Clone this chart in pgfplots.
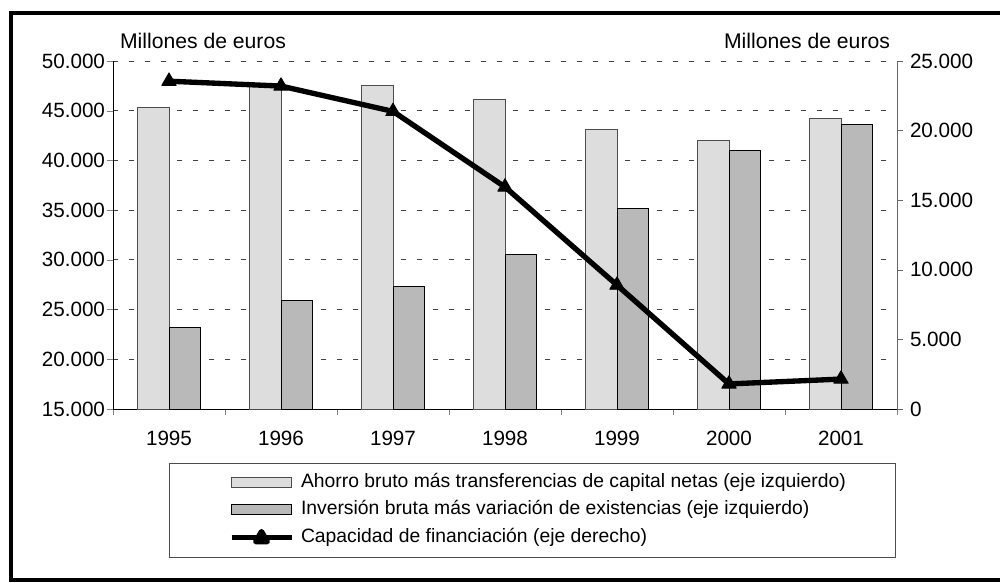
\documentclass[border=0pt]{standalone}
\usepackage{fontspec}
\setmainfont{Liberation Sans}
\usepackage{pgfplots}
\pgfplotsset{compat=1.18}

\definecolor{ahorro}{HTML}{DDDDDD}
\definecolor{inversion}{HTML}{B9B9B9}

% valores en millones de euros
\pgfplotstableread{
x anio ahorro inversion capacidad
0 1995 45300 23150 23550
1 1996 47700 25900 23200
2 1997 47500 27300 21380
3 1998 46150 30550 15950
4 1999 43150 35200 8900
5 2000 42000 40950 1800
6 2001 44250 43650 2150
}\datos

\pgfplotsset{
  base/.style={
    width=470.4pt, height=208.8pt, scale only axis,
    at={(67.8pt,103.8pt)}, anchor=south west,
    xmin=-0.5, xmax=6.5,
    tick align=outside,
    scaled y ticks=false,
    /pgf/number format/assume math mode=true,
    /pgf/number format/1000 sep={.},
    tick label style={font=\fontsize{12.4}{14}\selectfont},
  },
  barra/.style={legend image code/.code={%
    \draw[##1,line width=0.6pt] (0pt,-3pt) rectangle (36pt,3pt);}},
}

\begin{document}
\begin{tikzpicture}[x=0.6pt,y=0.6pt]
\path[use as bounding box] (0,0) rectangle (1000,582);
% marco exterior
\draw[line width=2.4pt] (1000,569) -- (11,569) -- (11,0);
\draw[line width=2.4pt] (11,2) -- (1000,2);

\begin{axis}[base,
  ybar=0pt, bar width=19pt,
  ymin=15000, ymax=50000, ytick={15000,20000,...,50000},
  axis x line*=bottom, axis y line*=left,
  xtick={0,...,6}, xticklabels={1995,1996,1997,1998,1999,2000,2001},
  major x tick style={draw=none},
  minor xtick={-0.5,0.5,...,6.5}, minor tick length=3.6pt,
  major tick length=3.6pt,
  ymajorgrids,
  major grid style={black!75, line width=0.5pt, dash pattern=on 3pt off 6.6pt},
  yticklabel style={inner xsep=1pt},
  xticklabel style={yshift=-6pt},
  axis line style={black, line width=0.6pt},
]
\addplot[fill=ahorro, draw=black!70, line width=0.6pt] table[x=x,y=ahorro] {\datos};
\addplot[fill=inversion, draw=black, line width=0.6pt] table[x=x,y=inversion] {\datos};
\end{axis}

\begin{axis}[base,
  ymin=0, ymax=25000, ytick={0,5000,...,25000},
  axis y line*=right, hide x axis,
  major tick length=3.6pt,
  y axis line style={black!60, line width=0.6pt},
  ytick style={black!60},
  yticklabel style={inner xsep=2pt, xshift=2pt},
  clip=false,
  legend style={at={(0.1416,-0.1753)}, anchor=north west, draw=none, fill=none,
    font=\fontsize{11.6}{13}\selectfont, legend cell align=left,
    row sep=6pt,
    /tikz/every odd column/.append style={column sep=2.4pt},
    nodes={text height=8pt, text depth=2.5pt, inner ysep=0pt}},
]
\addlegendimage{barra, fill=ahorro, draw=black!70}
\addlegendentry{Ahorro bruto más transferencias de capital netas (eje izquierdo)}
\addlegendimage{barra, fill=inversion, draw=black}
\addlegendentry{Inversión bruta más variación de existencias (eje izquierdo)}
\addplot[black, line width=3.2pt, line join=round, mark=triangle*, mark size=5pt,
  mark options={line width=0.5pt},
  legend image code/.code={%
    \draw[black, line width=2.6pt] (0pt,0pt) -- (36pt,0pt);
    \fill[black] (18pt,3.5pt) -- (14.5pt,-2.5pt) -- (21.5pt,-2.5pt) -- cycle;}]
  table[x=x,y=capacidad] {\datos};
\addlegendentry{Capacidad de financiación (eje derecho)}
\end{axis}

% recuadro de la leyenda
\draw[black!70, line width=0.6pt] (169,25) rectangle (895,119);
% títulos de los ejes
\node[font=\fontsize{12.7}{14}\selectfont] at (203,541) {Millones de euros};
\node[font=\fontsize{12.7}{14}\selectfont] at (807,541) {Millones de euros};
\end{tikzpicture}
\end{document}
